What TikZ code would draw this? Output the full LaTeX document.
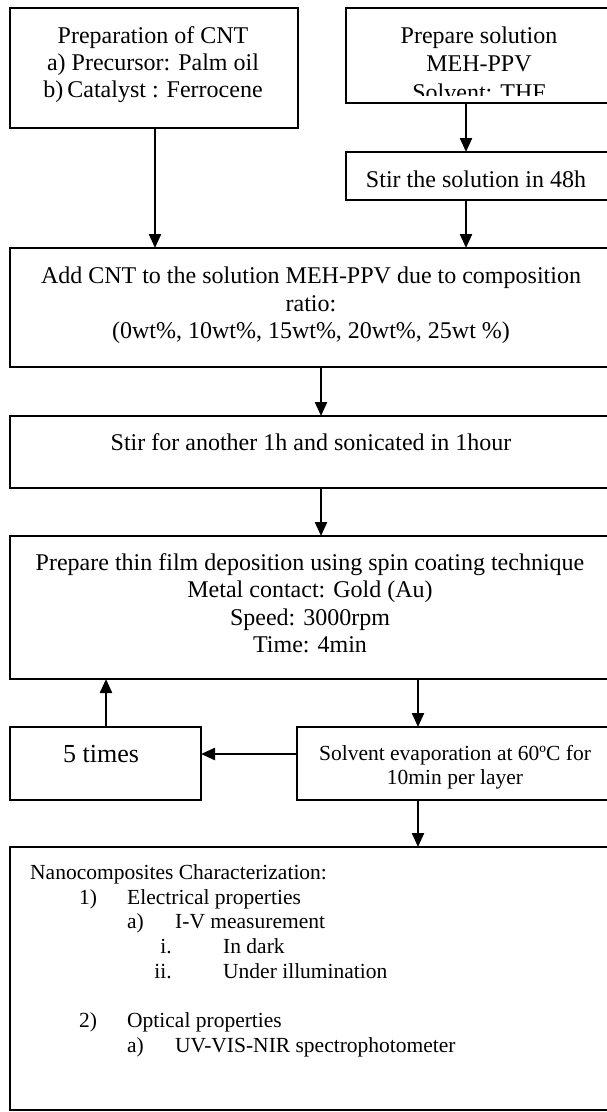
\documentclass[tikz,border=0pt]{standalone}
\usepackage{fontspec}
\setmainfont{Liberation Serif}
\usetikzlibrary{arrows.meta}
\tikzset{
  box/.style={draw, line width=2.4pt, inner sep=0pt, outer sep=0pt, anchor=north west},
  big/.style={anchor=base, inner sep=0pt, font=\fontsize{24}{27.6}\selectfont},
  bigger/.style={anchor=base, inner sep=0pt, font=\fontsize{26}{30}\selectfont},
  small/.style={anchor=base, inner sep=0pt, font=\fontsize{21.5}{24.7}\selectfont},
  item/.style={anchor=base west, inner sep=0pt, font=\fontsize{21.5}{24.7}\selectfont},
  itemr/.style={anchor=base east, inner sep=0pt, font=\fontsize{21.5}{24.7}\selectfont},
  arr/.style={line width=2.3pt, -{Triangle[width=12pt,length=14pt]}},
}
\begin{document}
\begin{tikzpicture}[x=1pt,y=-1pt]
\useasboundingbox (0,0) rectangle (607,1112);
\clip (0,0) rectangle (607,1112);
\fill[white] (0,0) rectangle (607,1112);

% process boxes
\node[box, minimum width=288pt, minimum height=120pt] (cnt)  at (10,8)   {};
\node[box, minimum width=267pt, minimum height=95pt]  (sol)  at (346,8)  {};
\node[box, minimum width=267pt, minimum height=48pt]  (stir1) at (346,152) {};
\node[box, minimum width=603pt, minimum height=119pt] (add)  at (10,248) {};
\node[box, minimum width=603pt, minimum height=72pt]  (stir2) at (10,416) {};
\node[box, minimum width=603pt, minimum height=143pt] (film) at (10,536) {};
\node[box, minimum width=191pt, minimum height=73pt]  (five) at (10,727) {};
\node[box, minimum width=316pt, minimum height=73pt]  (evap) at (297,727) {};
\node[box, minimum width=603pt, minimum height=263pt] (char) at (10,847) {};

% box texts
\node[big] (t1a) at (153,43) {Preparation of CNT};
\node[big] (t1b) at (153,70) {a) Precursor: Palm oil};
\node[big] (t1c) at (153,97) {b)\,Catalyst : Ferrocene};

\begin{scope}
  \clip (346,8) rectangle (613,95);
  \node[big] (t2a) at (479,43) {Prepare solution};
  \node[big] (t2b) at (479,71) {MEH-PPV};
  \node[big] (t2c) at (479,100) {Solvent: THF};
\end{scope}

\node[big] (t3) at (476,187) {Stir the solution in 48h};

\node[big] (t4a) at (311,283) {Add CNT to the solution MEH-PPV due to composition};
\node[big] (t4b) at (311,311) {ratio:};
\node[big] (t4c) at (311,338) {(0wt\%, 10wt\%, 15wt\%, 20wt\%, 25wt \%)};

\node[big] (t5) at (311,450) {Stir for another 1h and sonicated in 1hour};

\node[big] (t6a) at (310,570) {Prepare thin film deposition using spin coating technique};
\node[big] (t6b) at (310,597) {Metal contact: Gold (Au)};
\node[big] (t6c) at (310,625) {Speed: 3000rpm};
\node[big] (t6d) at (310,652) {Time: 4min};

\node[bigger] (t7) at (101,762) {5 times};

\node[small] (t8a) at (455,760) {Solvent evaporation at 60ºC for};
\node[small] (t8b) at (455,784) {10min per layer};

% characterization list
\node[item]  (c0)  at (30,879)   {Nanocomposites Characterization:};
\node[item]  (c1n) at (79,904)   {1)};
\node[item]  (c1)  at (127,904)  {Electrical properties};
\node[item]  (c1an) at (127,928) {a)};
\node[item]  (c1a) at (175,928)  {I-V measurement};
\node[itemr] (c1in) at (172,953) {i.};
\node[item]  (c1i) at (223,953)  {In dark};
\node[itemr] (c1iin) at (172,978) {ii.};
\node[item]  (c1ii) at (223,978) {Under illumination};
\node[item]  (c2n) at (79,1027)  {2)};
\node[item]  (c2)  at (127,1027) {Optical properties};
\node[item]  (c2an) at (127,1052) {a)};
\node[item]  (c2a) at (175,1052) {UV-VIS-NIR spectrophotometer};

% connector columns and rows
\coordinate (xcnt) at (155,0);
\coordinate (xsol) at (466,0);
\coordinate (xmid) at (321,0);
\coordinate (xback) at (106,0);
\coordinate (xout) at (418,0);
\coordinate (yloop) at (0,754);

\draw[arr] (cnt.south -| xcnt) -- (add.north -| xcnt);
\draw[arr] (sol.south -| xsol) -- (stir1.north -| xsol);
\draw[arr] (stir1.south -| xsol) -- (add.north -| xsol);
\draw[arr] (add.south -| xmid) -- (stir2.north -| xmid);
\draw[arr] (stir2.south -| xmid) -- (film.north -| xmid);
\draw[arr] (film.south -| xout) -- (evap.north -| xout);
\draw[arr] (evap.west |- yloop) -- (five.east |- yloop);
\draw[arr] (five.north -| xback) -- (film.south -| xback);
\draw[arr] (evap.south -| xout) -- (char.north -| xout);
\end{tikzpicture}
\end{document}
